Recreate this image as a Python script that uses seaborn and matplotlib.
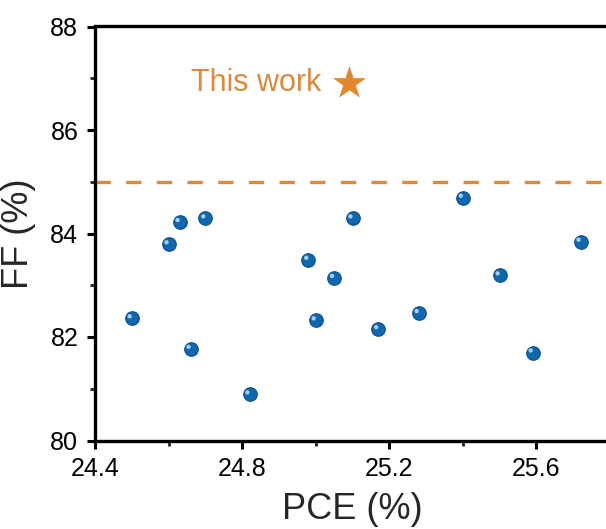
import matplotlib
matplotlib.use("Agg")
import matplotlib.pyplot as plt
import matplotlib.transforms as mtransforms
from matplotlib.ticker import MultipleLocator
import seaborn as sns
import pandas as pd

# Data
pce = [24.50, 24.60, 24.63, 24.66, 24.70, 24.82, 24.98, 25.00, 25.05, 25.10,
       25.17, 25.28, 25.40, 25.50, 25.59, 25.72]
ff = [82.36, 83.79, 84.22, 81.77, 84.29, 80.89, 83.49, 82.32, 83.14, 84.29,
      82.15, 82.46, 84.69, 83.19, 81.70, 83.84]
this_pce = [25.09]
this_ff = [86.90]
ref_ff = 85.0
x_ticks = [24.4, 24.8, 25.2, 25.6]
y_ticks = [80, 82, 84, 86, 88]

sns.set_style("white")
plt.rcParams['font.family'] = ['Liberation Sans', 'DejaVu Sans']

orange = "#DA8A3C"
blue = "#1266AE"

fig = plt.figure(figsize=(6.06, 5.29), dpi=100)
ax = fig.add_axes([95/606, (529-440.5)/529, 515/606, (440.5-26.5)/529])

df = pd.DataFrame({"PCE": pce, "FF": ff})
sns.scatterplot(data=df, x="PCE", y="FF", ax=ax, s=95, color=blue,
                edgecolor="#0A4F8C", linewidth=0.8, zorder=3)
# highlight for a glossy sphere look
hl = ax.transData + mtransforms.ScaledTranslation(-1.5/72, 1.5/72, fig.dpi_scale_trans)
sns.scatterplot(data=df, x="PCE", y="FF", ax=ax, s=10, color="#9FD0F5",
                edgecolor="none", linewidth=0, zorder=4, transform=hl)

sns.scatterplot(x=this_pce, y=this_ff, ax=ax, marker="*", s=560, color="#E3872F",
                edgecolor="#E3872F", linewidth=0.5, zorder=5)
ax.text(25.09 - 0.075, 86.90, "This work", color=orange, fontsize=22,
        ha="right", va="center")

ax.axhline(ref_ff, color=orange, lw=2.4, linestyle=(0, (4.6, 4.6)), zorder=2)

ax.set_xlim(24.4, 25.8)
ax.set_ylim(80, 88)
ax.set_xticks(x_ticks)
ax.set_yticks(y_ticks)
ax.set_xticklabels([f"{v:.1f}" for v in x_ticks])
ax.set_yticklabels([str(v) for v in y_ticks])
ax.xaxis.set_minor_locator(MultipleLocator(0.2))
ax.yaxis.set_minor_locator(MultipleLocator(1))

for side in ["left", "bottom", "top"]:
    ax.spines[side].set_visible(True)
    ax.spines[side].set_color("black")
    ax.spines[side].set_linewidth(2.4)
ax.spines["right"].set_visible(False)

ax.tick_params(axis="both", which="major", direction="out", length=6, width=2.2,
               labelsize=18, pad=6, colors="black", bottom=True, left=True)
ax.tick_params(axis="both", which="minor", direction="out", length=3.5, width=2.0,
               bottom=True, left=True)
ax.tick_params(axis="x", which="both", top=False)

ax.set_xlabel("PCE (%)", fontsize=26, labelpad=8)
ax.set_ylabel("FF (%)", fontsize=26, labelpad=10)

fig.savefig("out.png", dpi=100)
